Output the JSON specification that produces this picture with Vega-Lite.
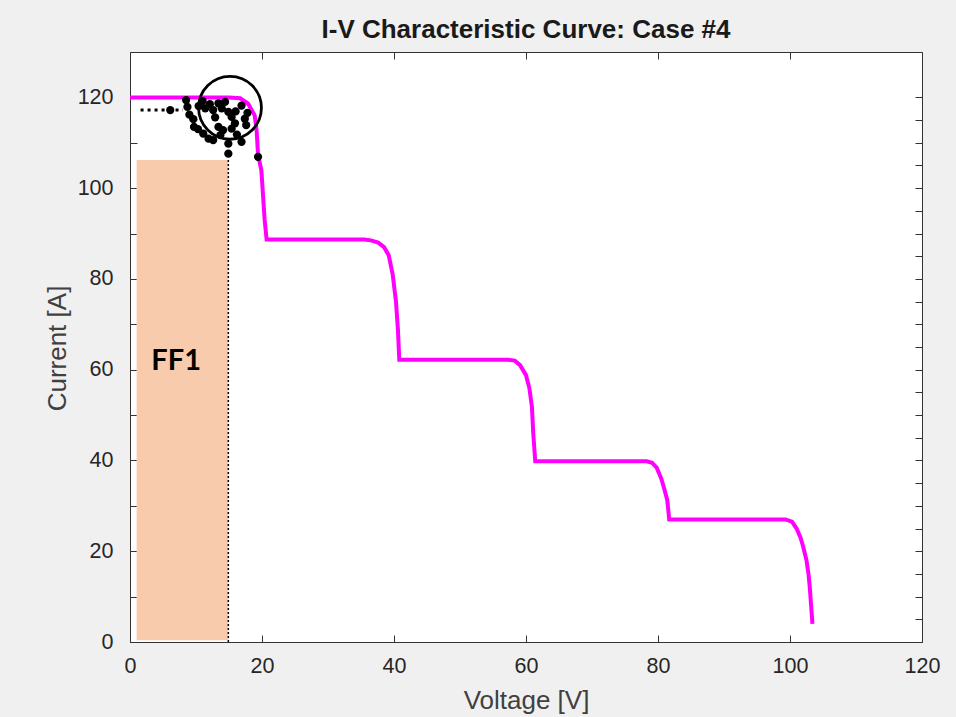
{
  "$schema": "https://vega.github.io/schema/vega-lite/v6.json",
  "width": 792,
  "height": 590,
  "autosize": {"type": "none"},
  "padding": {"left": 130, "top": 52, "right": 34, "bottom": 75},
  "background": "#f0f0f0",
  "view": {"fill": "white", "stroke": "#333333", "strokeWidth": 1},
  "title": {"text": "I-V Characteristic Curve: Case #4", "fontSize": 26, "fontWeight": "bold", "font": "Liberation Sans", "color": "#1a1a1a", "offset": 9, "anchor": "middle"},
  "config": {
    "axis": {"grid": false, "labelFlush": false, "domainColor": "#333333", "tickColor": "#333333", "labelFont": "Liberation Sans", "labelFontSize": 21.5, "labelColor": "#262626", "titleFont": "Liberation Sans", "titleFontSize": 26, "titleFontWeight": "normal", "titleColor": "#404040", "tickSize": -7}
  },
  "datasets": {
    "curve": [
      {"v": 0, "i": 120}, {"v": 15, "i": 120}, {"v": 16.7, "i": 119.8}, {"v": 17.9, "i": 118.6}, {"v": 18.9, "i": 116}, {"v": 19.2, "i": 112.4}, {"v": 19.4, "i": 107.3}, {"v": 19.9, "i": 104}, {"v": 20.4, "i": 93}, {"v": 20.7, "i": 88.7},
      {"v": 35.5, "i": 88.7}, {"v": 36.5, "i": 88.5}, {"v": 37.6, "i": 88}, {"v": 38.5, "i": 87}, {"v": 39.2, "i": 85.2}, {"v": 39.8, "i": 81}, {"v": 40.3, "i": 75}, {"v": 40.6, "i": 68.7}, {"v": 40.8, "i": 62.2},
      {"v": 57.3, "i": 62.2}, {"v": 58.3, "i": 62}, {"v": 59.1, "i": 61}, {"v": 60.0, "i": 58.8}, {"v": 60.5, "i": 56}, {"v": 60.9, "i": 51.8}, {"v": 61.1, "i": 46}, {"v": 61.4, "i": 39.8},
      {"v": 78.3, "i": 39.8}, {"v": 79.1, "i": 39.5}, {"v": 79.8, "i": 38.4}, {"v": 80.5, "i": 36}, {"v": 80.9, "i": 34}, {"v": 81.4, "i": 31.3}, {"v": 81.7, "i": 27},
      {"v": 99.3, "i": 27}, {"v": 100.3, "i": 26.5}, {"v": 101, "i": 25}, {"v": 101.6, "i": 23}, {"v": 102, "i": 21}, {"v": 102.5, "i": 18}, {"v": 102.8, "i": 15}, {"v": 103.0, "i": 12}, {"v": 103.2, "i": 8}, {"v": 103.4, "i": 4}
    ],
    "dots": [
      {"v": 8.5, "i": 119.4}, {"v": 8.7, "i": 117.9}, {"v": 9.0, "i": 116.2}, {"v": 9.6, "i": 115.2}, {"v": 9.7, "i": 113.5}, {"v": 11.0, "i": 119.2}, {"v": 11.4, "i": 117.6}, {"v": 12.1, "i": 118.5}, {"v": 12.6, "i": 117.2}, {"v": 13.4, "i": 118.7},
      {"v": 13.9, "i": 117.6}, {"v": 14.4, "i": 119.0}, {"v": 14.9, "i": 116.8}, {"v": 15.4, "i": 115.7}, {"v": 16.9, "i": 118.2}, {"v": 17.4, "i": 115.3}, {"v": 17.8, "i": 116.6}, {"v": 11.1, "i": 112.0}, {"v": 11.9, "i": 110.9}, {"v": 13.4, "i": 113.5},
      {"v": 13.7, "i": 111.7}, {"v": 14.1, "i": 112.8}, {"v": 15.4, "i": 113.1}, {"v": 16.2, "i": 111.8}, {"v": 16.9, "i": 110.2}, {"v": 12.6, "i": 110.6}, {"v": 14.9, "i": 109.8}, {"v": 14.9, "i": 107.6}, {"v": 19.4, "i": 106.9}, {"v": 17.6, "i": 113.9}, {"v": 6.1, "i": 117.2},
      {"v": 10.4, "i": 118.1}, {"v": 12.9, "i": 115.6}, {"v": 16.0, "i": 116.9}, {"v": 10.3, "i": 113.0}, {"v": 15.9, "i": 114.3}
    ],
    "block": [{"v": 1.0, "v2": 14.9, "i": 0.4, "i2": 106.2}],
    "vline": [{"v": 14.9, "i": 0, "i2": 106.2}],
    "hline": [{"v": 1.6, "v2": 8.0, "i": 117.2}],
    "ring": [{"v": 15.15, "i": 117.7}],
    "label": [{"v": 7.0, "i": 61.9, "t": "FF1"}]
  },
  "layer": [
    {
      "layer": [
        {
          "data": {"name": "block"},
          "mark": {"type": "rect", "color": "#f8cbad"},
          "encoding": {
            "x": {"field": "v", "type": "quantitative", "scale": {"domain": [0, 120], "nice": false, "zero": false},
                  "axis": {"orient": "bottom", "values": [0, 20, 40, 60, 80, 100, 120], "labelPadding": 20, "title": "Voltage [V]", "titleX": 396, "titleY": 58, "titleBaseline": "middle", "titleAlign": "center"}},
            "x2": {"field": "v2"},
            "y": {"field": "i", "type": "quantitative", "scale": {"domain": [0, 130], "nice": false, "zero": false},
                  "axis": {"orient": "left", "values": [0, 5, 10, 15, 20, 25, 30, 35, 40, 45, 50, 55, 60, 65, 70, 75, 80, 85, 90, 95, 100, 105, 110, 115, 120], "labelExpr": "datum.value % 20 === 0 ? datum.label : ''", "labelPadding": 24, "title": "Current [A]", "titleX": -73, "titleY": 296, "titleBaseline": "middle", "titleAlign": "center"}},
            "y2": {"field": "i2"}
          }
        },
        {
          "data": {"name": "vline"},
          "mark": {"type": "rule", "color": "black", "strokeWidth": 1.5, "strokeDash": [2, 2]},
          "encoding": {"x": {"field": "v", "type": "quantitative"}, "y": {"field": "i", "type": "quantitative"}, "y2": {"field": "i2"}}
        },
        {
          "data": {"name": "curve"},
          "mark": {"type": "line", "color": "#ff00ff", "strokeWidth": 4},
          "encoding": {"x": {"field": "v", "type": "quantitative"}, "y": {"field": "i", "type": "quantitative"}}
        },
        {
          "data": {"name": "hline"},
          "mark": {"type": "rule", "color": "black", "strokeWidth": 3, "strokeDash": [3, 4]},
          "encoding": {"x": {"field": "v", "type": "quantitative"}, "x2": {"field": "v2"}, "y": {"field": "i", "type": "quantitative"}}
        },
        {
          "data": {"name": "dots"},
          "mark": {"type": "circle", "color": "black", "size": 68, "opacity": 1},
          "encoding": {"x": {"field": "v", "type": "quantitative"}, "y": {"field": "i", "type": "quantitative"}}
        },
        {
          "data": {"name": "ring"},
          "mark": {"type": "point", "shape": "circle", "filled": false, "stroke": "black", "strokeWidth": 2.8, "size": 3950, "opacity": 1},
          "encoding": {"x": {"field": "v", "type": "quantitative"}, "y": {"field": "i", "type": "quantitative"}}
        },
        {
          "data": {"name": "label"},
          "mark": {"type": "text", "font": "Lato", "fontWeight": "bold", "fontSize": 29, "color": "black", "align": "center", "baseline": "middle"},
          "encoding": {"x": {"field": "v", "type": "quantitative"}, "y": {"field": "i", "type": "quantitative"}, "text": {"field": "t"}}
        }
      ]
    },
    {
      "data": {"name": "ring"},
      "mark": {"type": "point", "opacity": 0},
      "encoding": {
        "x": {"field": "v", "type": "quantitative", "scale": {"domain": [0, 120], "nice": false, "zero": false},
              "axis": {"orient": "top", "values": [0, 20, 40, 60, 80, 100, 120], "labels": false, "domain": false, "title": null}},
        "y": {"field": "i", "type": "quantitative", "scale": {"domain": [0, 130], "nice": false, "zero": false},
              "axis": {"orient": "right", "values": [0, 5, 10, 15, 20, 25, 30, 35, 40, 45, 50, 55, 60, 65, 70, 75, 80, 85, 90, 95, 100, 105, 110, 115, 120], "labels": false, "domain": false, "title": null}}
      }
    }
  ],
  "resolve": {"scale": {"x": "independent", "y": "independent"}}
}
